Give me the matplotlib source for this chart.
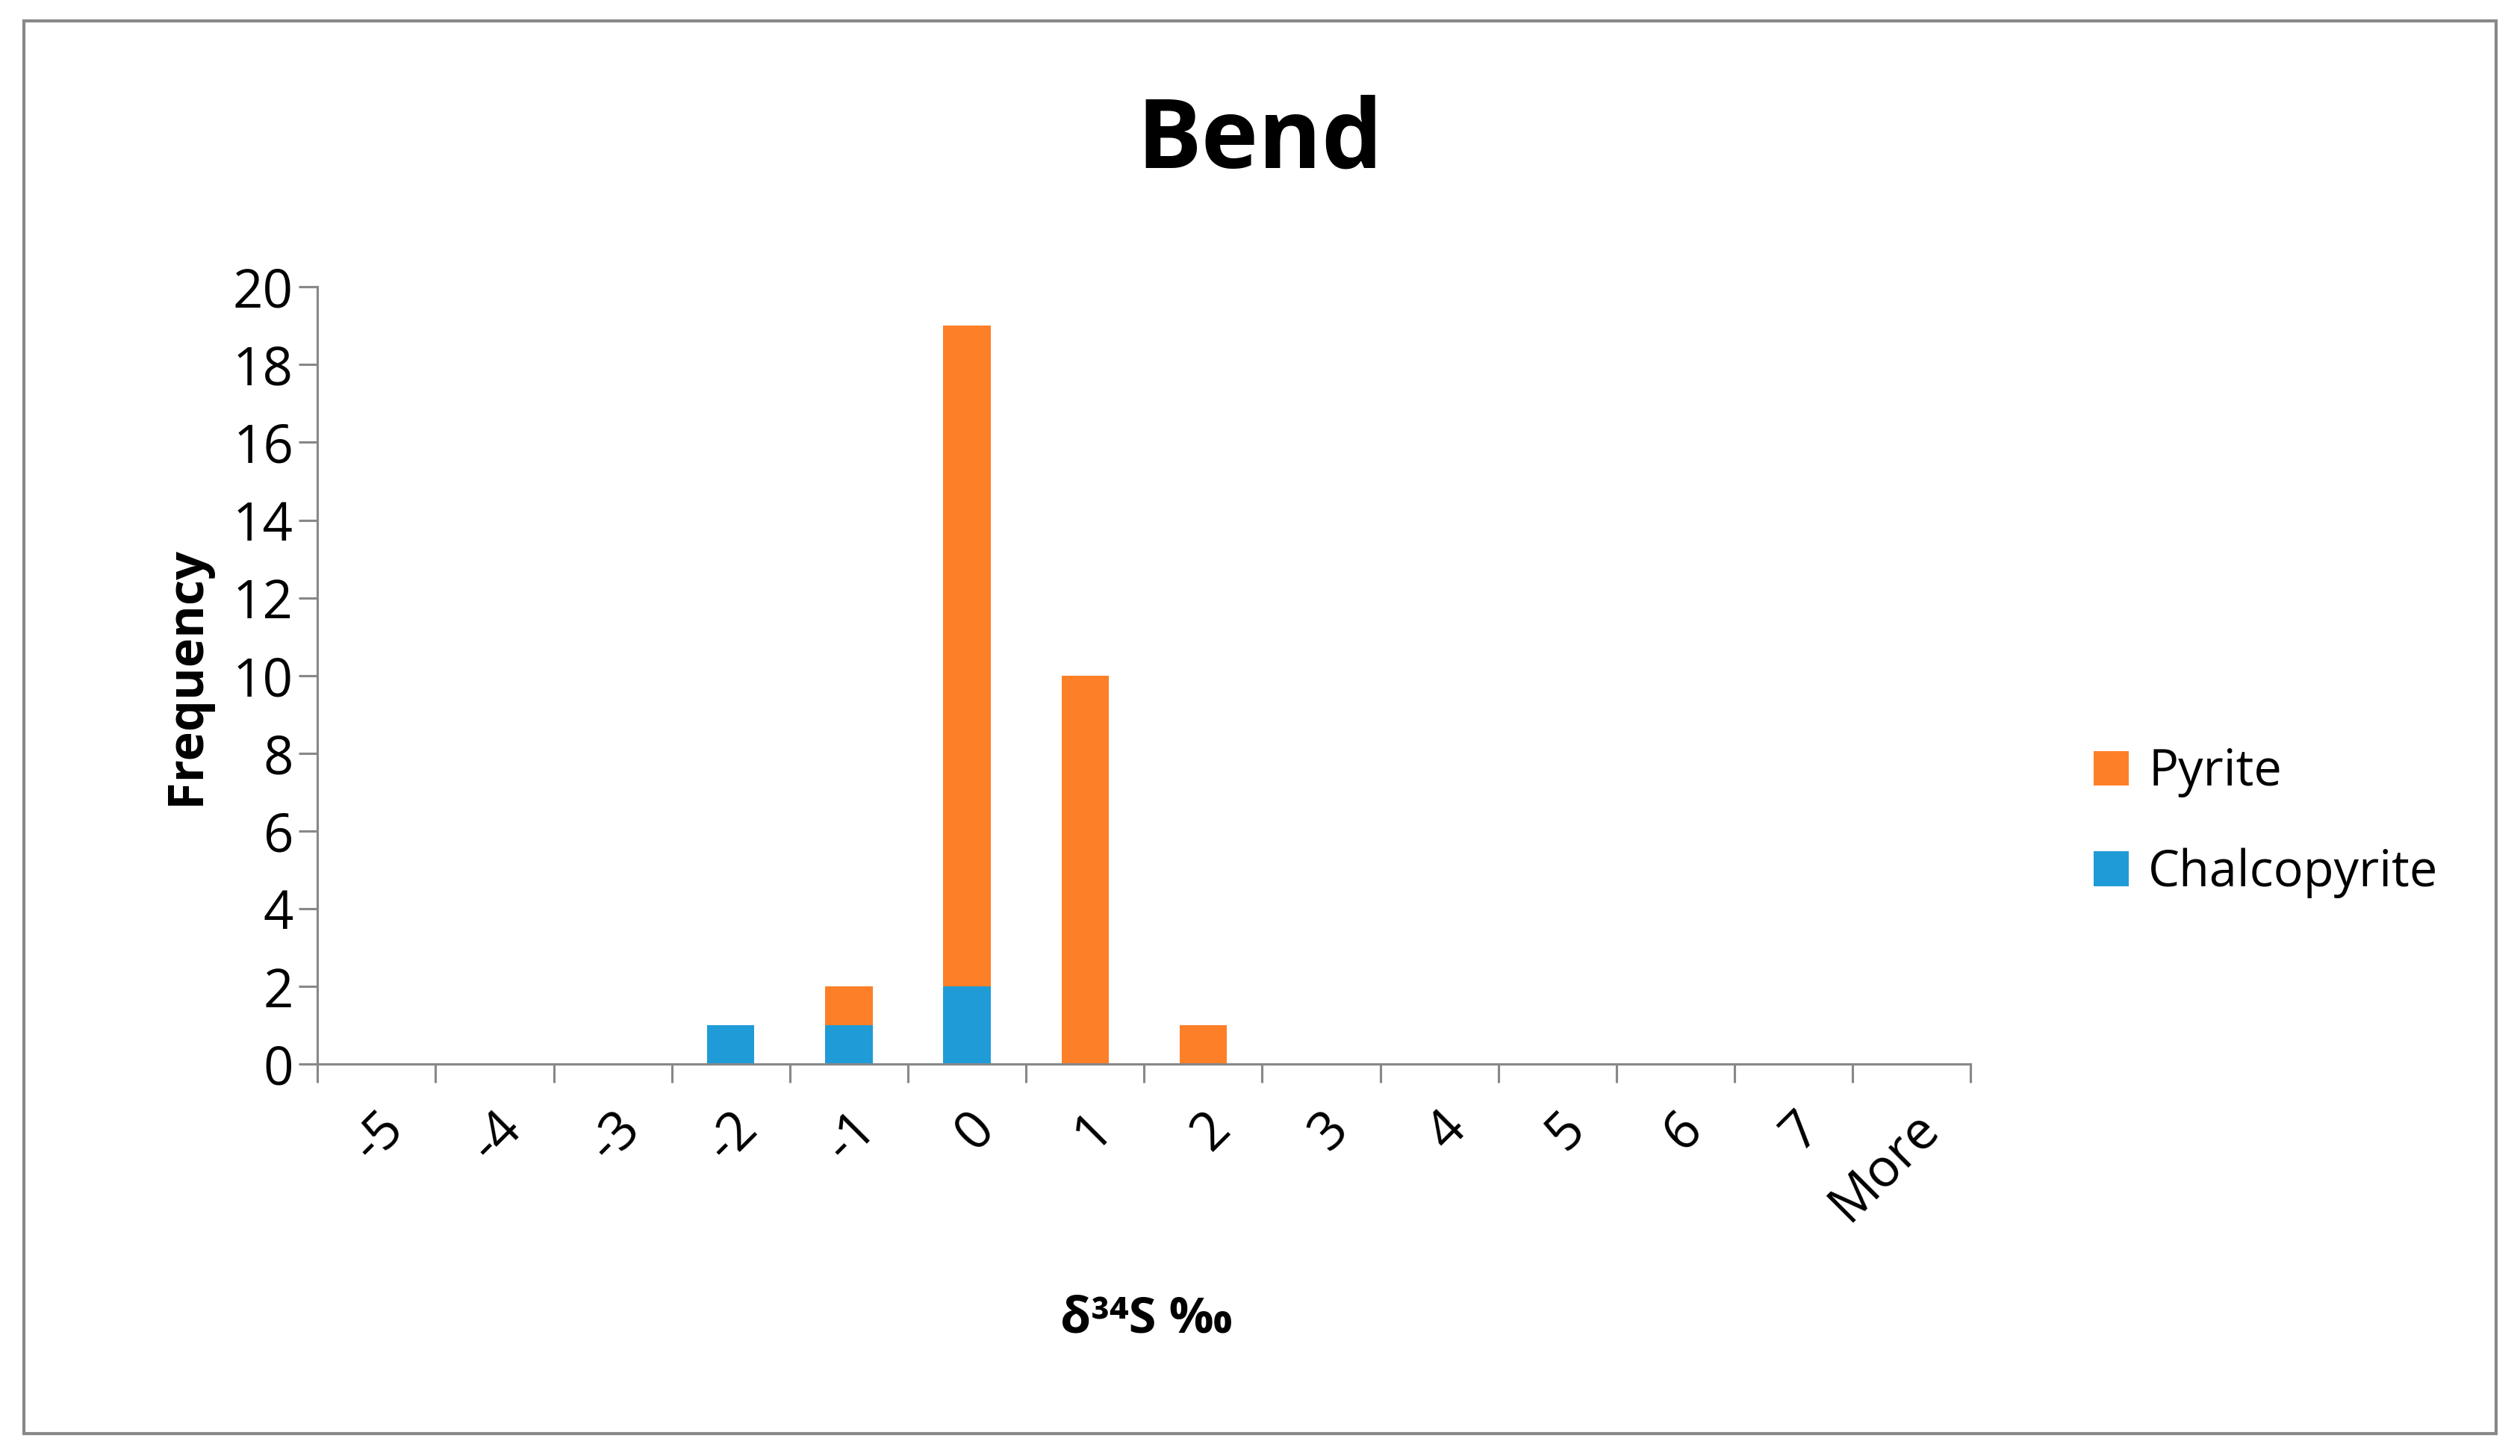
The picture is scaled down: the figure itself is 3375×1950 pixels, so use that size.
import matplotlib
matplotlib.use("Agg")
import matplotlib.pyplot as plt
import numpy as np
from matplotlib.patches import Rectangle

categories = ["-5","-4","-3","-2","-1","0","1","2","3","4","5","6","7","More"]
chalcopyrite = [0,0,0,1,1,2,0,0,0,0,0,0,0,0]
pyrite = [0,0,0,0,1,17,10,1,0,0,0,0,0,0]

plt.rcParams['font.family'] = ['Open Sans', 'DejaVu Sans']
fig = plt.figure(figsize=(22.5, 13), dpi=150)
ax = fig.add_axes([0.126, 0.269, 0.656, 0.534])
x = np.arange(len(categories))
blue = "#1F9BD7"; orange = "#FD7F28"
ax.bar(x, chalcopyrite, width=0.4, color=blue, label="Chalcopyrite")
ax.bar(x, pyrite, width=0.4, bottom=chalcopyrite, color=orange, label="Pyrite")
ax.set_xlim(-0.5, len(categories)-0.5)
ax.set_ylim(0, 20)
ax.set_yticks(range(0, 21, 2))
ax.set_xticks(x)
ax.set_xticklabels(categories, rotation=45, ha="right", rotation_mode="anchor", fontsize=34)
ax.set_xticks(np.arange(-0.5, len(categories)), minor=True)
ax.tick_params(axis='x', which='major', length=0, pad=24)
ax.tick_params(axis='x', which='minor', length=12, width=1.5, color="#888888")
ax.tick_params(axis='y', length=12, width=1.5, color="#888888", labelsize=34)
for s in ["top", "right"]:
    ax.spines[s].set_visible(False)
for s in ["left", "bottom"]:
    ax.spines[s].set_color("#888888"); ax.spines[s].set_linewidth(1.5)
ax.set_ylabel("Frequency", fontsize=32, fontweight="bold", labelpad=14)
fig.text(0.455, 0.094, "δ³⁴S ‰", fontsize=32, fontweight="bold", ha="center", va="center")
fig.text(0.5, 0.902, "Bend", fontsize=62, fontweight="bold", ha="center", va="center")
h, l = ax.get_legend_handles_labels()
fig.legend(h[::-1], l[::-1], loc="center left", bbox_to_anchor=(0.813, 0.435), frameon=False,
           fontsize=32, handlelength=0.7, handleheight=0.7, handletextpad=0.4, labelspacing=1.0)
fig.patches.append(Rectangle((0.0096, 0.0156), 0.981, 0.97, transform=fig.transFigure,
                             fill=False, edgecolor="#888888", linewidth=2))
fig.savefig("out.png", dpi=150, facecolor="white")
